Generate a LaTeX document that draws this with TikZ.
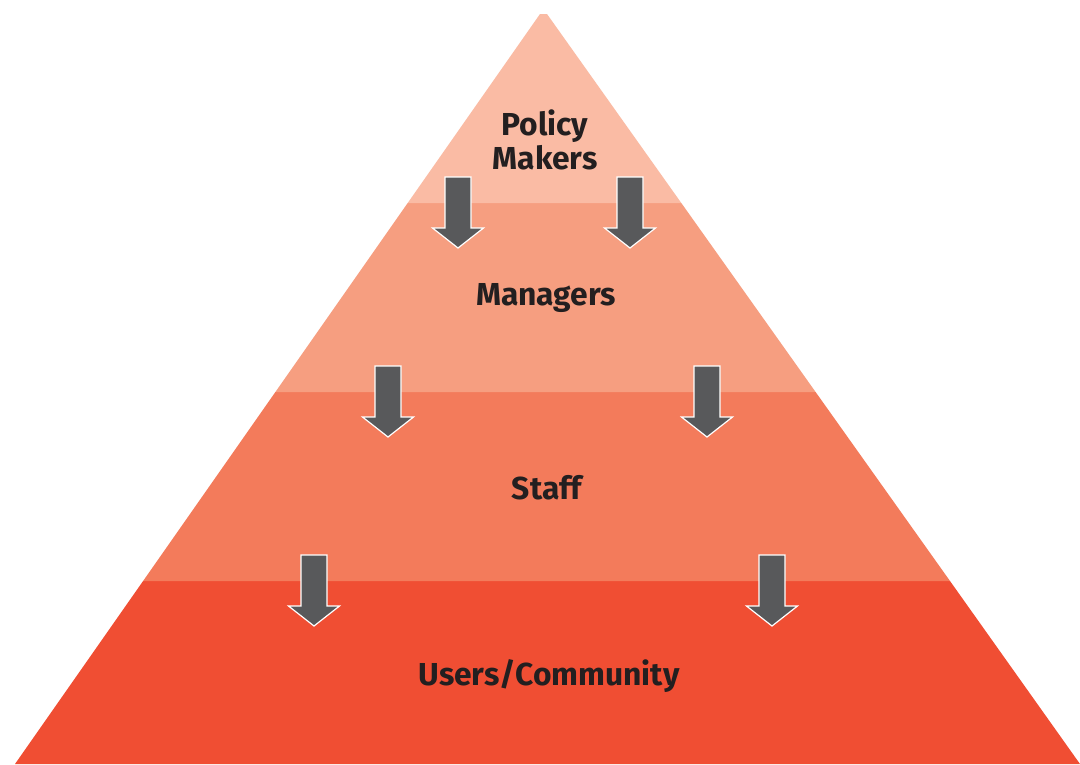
\documentclass[tikz,border=0pt]{standalone}
\usepackage{fontspec}
\setmainfont{Fira Sans}
\definecolor{bandA}{HTML}{FABBA4}
\definecolor{bandB}{HTML}{F69E80}
\definecolor{bandC}{HTML}{F37B5B}
\definecolor{bandD}{HTML}{F04E33}
\definecolor{arrowgray}{HTML}{58595B}
\definecolor{labelgray}{HTML}{231F20}
\tikzset{
  band/.style={draw=none},
  tier/.style={text=labelgray, font=\fontsize{22.6}{24.5}\selectfont\bfseries,
    align=center, inner sep=0mm},
  downarrow/.style={fill=arrowgray, draw=white, line width=0.3mm, line join=miter}
}
\begin{document}
\begin{tikzpicture}[x=0.025cm, y=-0.025cm]
 \useasboundingbox[fill=white] (0, 0) rectangle (1080, 764);

 \fill[bandD] (15, 764) -- (143.1, 581) -- (950, 581) -- (1080, 764) -- cycle;
 \fill[bandC] (143.1, 581) -- (275.4, 392) -- (815.6, 392) -- (950, 581) -- cycle;
 \fill[bandB] (275.4, 392) -- (407.7, 203) -- (681.3, 203) -- (815.6, 392) -- cycle;
 \fill[bandA] (407.7, 203) -- (540, 14) -- (547, 14) -- (681.3, 203) -- cycle;

 \foreach \x/\y in {458/177, 630/177, 388/366, 707/366, 314/555, 772/555} {
   \draw[downarrow] (\x-13, \y) -- (\x+13, \y) -- (\x+13, \y+51)
     -- (\x+25.5, \y+51) -- (\x, \y+71) -- (\x-25.5, \y+51)
     -- (\x-13, \y+51) -- cycle;
  }

 \node[tier] (policy) at (545, 140) {Policy\\Makers};
 \node[tier] (managers) at (546, 298) {Managers};
 \node[tier] (staff) at (547, 488) {Staff};
 \node[tier] (users) at (549, 676) {Users/Community};

\end{tikzpicture}
\end{document}
